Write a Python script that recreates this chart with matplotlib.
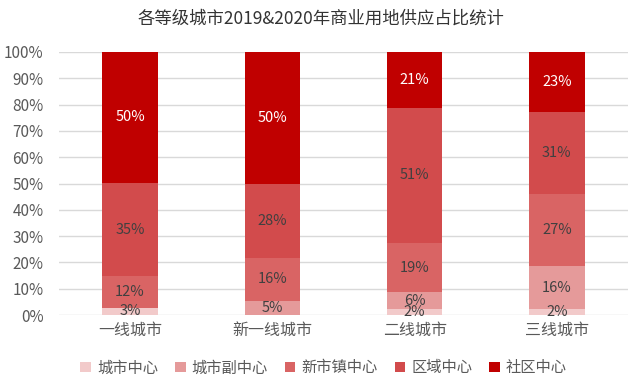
import matplotlib
matplotlib.use('Agg')
import matplotlib.pyplot as plt
import numpy as np

plt.rcParams['font.family'] = ['Noto Sans CJK SC', 'DejaVu Sans']

# data (percent, bottom -> top)
cities = ['一线城市', '新一线城市', '二线城市', '三线城市']
series_names = ['城市中心', '城市副中心', '新市镇中心', '区域中心', '社区中心']
city_center = [2.7, 0.0, 2.4, 2.3]
sub_center = [0.0, 5.4, 6.2, 16.3]
new_town = [12.1, 16.4, 18.8, 27.4]
district = [35.4, 28.2, 51.3, 31.2]
community = [49.8, 50.0, 21.3, 22.8]
labels_shown = [
    ['3%', '', '2%', '2%'],
    ['', '5%', '6%', '16%'],
    ['12%', '16%', '19%', '27%'],
    ['35%', '28%', '51%', '31%'],
    ['50%', '50%', '21%', '23%'],
]

colors = ['#F2CACA', '#E59A9A', '#D96464', '#D24B4C', '#C00000']
label_colors = ['#404040', '#404040', '#404040', '#404040', '#FFFFFF']

fig = plt.figure(figsize=(6.41, 3.88), dpi=100)
ax = fig.add_axes([59 / 641, 1 - 315 / 388, 569 / 641, 263 / 388])

x = np.arange(len(cities))
bottom = np.zeros(len(cities))
all_series = [city_center, sub_center, new_town, district, community]
for i, vals in enumerate(all_series):
    vals = np.array(vals)
    ax.bar(x, vals, 0.39, bottom=bottom, color=colors[i], label=series_names[i], zorder=3)
    for j in range(len(cities)):
        if labels_shown[i][j]:
            ax.text(x[j], bottom[j] + vals[j] / 2, labels_shown[i][j], ha='center', va='center',
                    fontsize=10.5, color=label_colors[i], zorder=4)
    bottom += vals

ax.set_xlim(-0.5, len(cities) - 0.5)
ax.set_ylim(0, 100)
ax.set_yticks(np.arange(0, 101, 10))
ax.set_yticklabels([f'{v}%' for v in range(0, 101, 10)])
ax.set_xticks(x)
ax.set_xticklabels(cities)
ax.tick_params(axis='both', length=0, colors='#595959')
ax.tick_params(axis='y', pad=11, labelsize=11)
ax.tick_params(axis='x', pad=5, labelsize=11.5)
ax.grid(axis='y', color='#D9D9D9', linewidth=1, zorder=0)
for s in ax.spines.values():
    s.set_visible(False)

fig.suptitle('各等级城市2019&2020年商业用地供应占比统计', y=0.975, fontsize=12.5, color='#333333')

leg = fig.legend(loc='center', bbox_to_anchor=(0.505, 0.052), ncol=5, frameon=False,
                 fontsize=11, handlelength=0.7, handleheight=0.7, handletextpad=0.4,
                 columnspacing=1.1, labelcolor='#595959')

fig.savefig('out.png', dpi=100)
